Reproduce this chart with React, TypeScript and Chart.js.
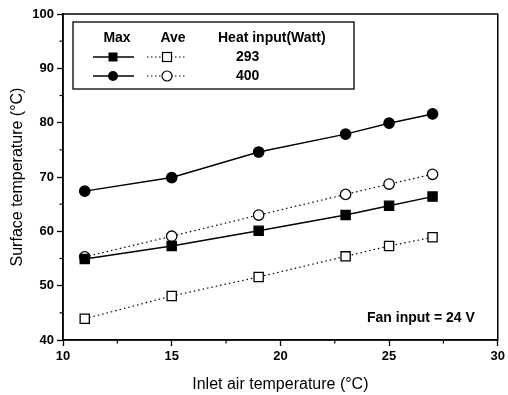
import React, { useEffect, useRef } from 'react';
import { Chart, registerables } from 'chart.js';
Chart.register(...registerables);

const inletTemps = [11, 15, 19, 23, 25, 27];
const max293 = [54.9, 57.3, 60.1, 63.0, 64.7, 66.4];
const ave293 = [43.9, 48.1, 51.6, 55.4, 57.3, 58.9];
const max400 = [67.4, 69.9, 74.6, 77.9, 79.9, 81.6];
const ave400 = [55.3, 59.1, 63.0, 66.8, 68.7, 70.5];
const legendHeaders = ['Max', 'Ave', 'Heat input(Watt)'];
const heatInputs = ['293', '400'];
const noteText = 'Fan input = 24 V';
const xTitle = 'Inlet air temperature (°C)';
const yTitle = 'Surface temperature (°C)';

const FONT = "'Liberation Sans', Arial, sans-serif";

const toPts = (ys: number[]) => ys.map((y, i) => ({ x: inletTemps[i], y }));

const decorPlugin = {
  id: 'decor',
  afterDraw(chart: any) {
    const { ctx, chartArea: a, scales } = chart;
    ctx.save();
    ctx.strokeStyle = '#000';
    ctx.fillStyle = '#000';
    // frame
    ctx.lineWidth = 1.5;
    ctx.strokeRect(a.left, a.top, a.right - a.left, a.bottom - a.top);
    // minor ticks
    ctx.lineWidth = 1.2;
    const xs = scales.x;
    for (let v = xs.min + 2.5; v < xs.max; v += 5) {
      const px = xs.getPixelForValue(v);
      ctx.beginPath();
      ctx.moveTo(px, a.bottom);
      ctx.lineTo(px, a.bottom + 3.5);
      ctx.stroke();
    }
    const ys = scales.y;
    for (let v = ys.min + 5; v < ys.max; v += 10) {
      const py = ys.getPixelForValue(v);
      ctx.beginPath();
      ctx.moveTo(a.left, py);
      ctx.lineTo(a.left - 3.5, py);
      ctx.stroke();
    }
    // legend box
    ctx.lineWidth = 1.3;
    ctx.strokeRect(73, 22, 281, 67);
    ctx.font = `bold 14px ${FONT}`;
    ctx.textBaseline = 'middle';
    ctx.textAlign = 'center';
    ctx.fillText(legendHeaders[0], 117, 38);
    ctx.fillText(legendHeaders[1], 173, 38);
    ctx.textAlign = 'left';
    ctx.fillText(legendHeaders[2], 218, 38);
    const rows = [57, 76];
    rows.forEach((ry, i) => {
      ctx.setLineDash([]);
      ctx.lineWidth = 1.4;
      ctx.beginPath();
      ctx.moveTo(93, ry);
      ctx.lineTo(134, ry);
      ctx.stroke();
      ctx.setLineDash([1.5, 2.5]);
      ctx.lineWidth = 1.2;
      ctx.beginPath();
      ctx.moveTo(147, ry);
      ctx.lineTo(187, ry);
      ctx.stroke();
      ctx.setLineDash([]);
      if (i === 0) {
        ctx.fillRect(108.5, ry - 4.5, 9, 9);
        ctx.fillStyle = '#fff';
        ctx.fillRect(162.5, ry - 4.5, 9, 9);
        ctx.fillStyle = '#000';
        ctx.strokeRect(162.5, ry - 4.5, 9, 9);
      } else {
        ctx.beginPath();
        ctx.arc(113, ry, 5, 0, Math.PI * 2);
        ctx.fill();
        ctx.beginPath();
        ctx.arc(167, ry, 5, 0, Math.PI * 2);
        ctx.fillStyle = '#fff';
        ctx.fill();
        ctx.fillStyle = '#000';
        ctx.stroke();
      }
      ctx.fillText(heatInputs[i], 236, ry);
    });
    ctx.fillText(noteText, 367, 318);
    ctx.restore();
  },
};

export default function App() {
  const ref = useRef<HTMLCanvasElement | null>(null);
  useEffect(() => {
    if (!ref.current) return;
    const solid = { borderColor: '#000', borderWidth: 1.4, showLine: true, pointBorderColor: '#000', pointBorderWidth: 1.3 };
    const dotted = { borderColor: '#000', borderWidth: 1.2, borderDash: [1.5, 3], showLine: true, pointBorderColor: '#000', pointBorderWidth: 1.3 };
    const chart = new Chart(ref.current, {
      type: 'scatter',
      data: {
        datasets: [
          { label: 'Max 293', data: toPts(max293), ...solid, pointStyle: 'rect', pointRadius: 6.5, pointBackgroundColor: '#000' },
          { label: 'Ave 293', data: toPts(ave293), ...dotted, pointStyle: 'rect', pointRadius: 6.5, pointBackgroundColor: '#fff' },
          { label: 'Max 400', data: toPts(max400), ...solid, pointStyle: 'circle', pointRadius: 5.2, pointBackgroundColor: '#000' },
          { label: 'Ave 400', data: toPts(ave400), ...dotted, pointStyle: 'circle', pointRadius: 5.2, pointBackgroundColor: '#fff' },
        ],
      },
      options: {
        animation: false,
        responsive: false,
        layout: { padding: { top: 14, right: 7, left: 0, bottom: 0 } },
        plugins: { legend: { display: false }, tooltip: { enabled: false } },
        scales: {
          x: {
            type: 'linear',
            min: 10,
            max: 30,
            afterFit: (s: any) => { s.height = 55; },
            ticks: { stepSize: 5, color: '#000', font: { family: FONT, size: 13, weight: 'bold' }, padding: 3, maxRotation: 0 },
            grid: { display: true, drawOnChartArea: false, drawTicks: true, tickLength: 6, color: '#000', tickWidth: 1.3 },
            border: { display: true, color: '#000', width: 1.5 },
            title: { display: true, text: xTitle, color: '#000', font: { family: FONT, size: 16 }, padding: { top: 0, bottom: 1 } },
          },
          y: {
            min: 40,
            max: 100,
            afterFit: (s: any) => { s.width = 63; },
            ticks: { stepSize: 10, color: '#000', font: { family: FONT, size: 13, weight: 'bold' }, padding: 3 },
            grid: { display: true, drawOnChartArea: false, drawTicks: true, tickLength: 6, color: '#000', tickWidth: 1.3 },
            border: { display: true, color: '#000', width: 1.5 },
            title: { display: true, text: yTitle, color: '#000', font: { family: FONT, size: 16 }, padding: { top: 8, bottom: 0 } },
          },
        },
      },
      plugins: [decorPlugin],
    });
    return () => chart.destroy();
  }, []);
  return (
    <div style={{ position: 'fixed', left: 0, top: 0, width: 508, height: 395, background: '#fff' }}>
      <canvas ref={ref} width={508} height={395} style={{ width: 508, height: 395, display: 'block' }} />
    </div>
  );
}
